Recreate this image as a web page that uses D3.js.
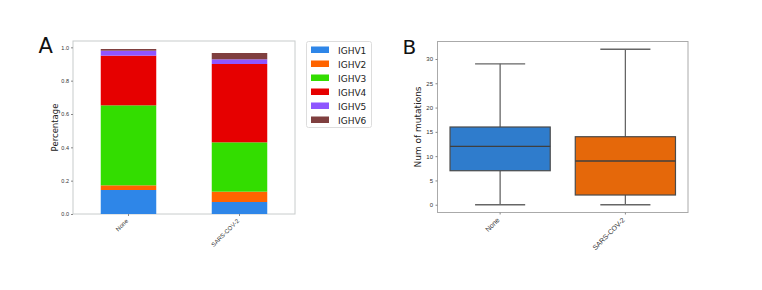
<!DOCTYPE html>
<html><head><meta charset="utf-8">
<script src="https://cdn.jsdelivr.net/npm/d3@7"></script>
<style>body{margin:0;background:#fff}svg{display:block;font-family:"DejaVu Sans",sans-serif}</style>
</head><body>
<svg id="c" width="762" height="290"></svg>
<script>
const groups = ["None", "SARS-COV-2"];
const genes = ["IGHV1", "IGHV2", "IGHV3", "IGHV4", "IGHV5", "IGHV6"];
const geneColors = ["#2e86e8", "#ff6400", "#33dd00", "#e60000", "#8f55ff", "#7f3f3f"];
const fracNone = [0.144, 0.028, 0.48, 0.298, 0.03, 0.01];
const fracSars = [0.072, 0.062, 0.296, 0.47, 0.028, 0.038];
const yTicksA = [0, 0.2, 0.4, 0.6, 0.8, 1.0];
// box stats: min, q1, median, q3, max
const boxNone = [0, 7, 12, 16, 29];
const boxSars = [0, 2, 9, 14, 32];
const boxColors = ["#2f7ccc", "#e5680a"];
const yTicksB = [0, 5, 10, 15, 20, 25, 30];

const svg = d3.select("#c");

// ---------- Panel A ----------
const A = {l: 73, r: 295, t: 41, b: 214};
const xA = d3.scaleBand().domain(groups).range([A.l, A.r]).paddingInner(0.5).paddingOuter(0.25);
const yA = d3.scaleLinear().domain([-0.0, 1.038]).range([A.b, A.t]);
const stackRows = groups.map((g, i) => {
  const o = {group: g};
  const arr = i === 0 ? fracNone : fracSars;
  genes.forEach((k, j) => o[k] = arr[j]);
  return o;
});
const series = d3.stack().keys(genes)(stackRows);
const gA = svg.append("g");
gA.append("rect").attr("x", A.l).attr("y", A.t).attr("width", A.r - A.l).attr("height", A.b - A.t)
  .attr("fill", "none").attr("stroke", "#c8cccc").attr("stroke-width", 1);
series.forEach((s, j) => {
  gA.selectAll(null).data(s).enter().append("rect")
    .attr("x", d => xA(d.data.group))
    .attr("width", xA.bandwidth())
    .attr("y", d => yA(d[1]))
    .attr("height", d => yA(d[0]) - yA(d[1]))
    .attr("fill", geneColors[j]);
});
const axA = gA.append("g").attr("transform", `translate(${A.l},0)`)
  .call(d3.axisLeft(yA).tickValues(yTicksA).tickFormat(d3.format(".1f")).tickSize(2).tickPadding(2));
axA.select(".domain").remove();
axA.selectAll("line").attr("stroke", "#888");
axA.selectAll("text").attr("font-size", 5.5).attr("fill", "#333");
const axAx = gA.append("g").attr("transform", `translate(0,${A.b})`)
  .call(d3.axisBottom(xA).tickSize(2).tickPadding(2));
axAx.select(".domain").remove();
axAx.selectAll("line").attr("stroke", "#888");
axAx.selectAll("text").attr("font-size", 6).attr("fill", "#333")
  .attr("text-anchor", "end").attr("x", 0).attr("y", 0).attr("dy", 0)
  .attr("transform", "translate(0,7.5) rotate(-45)");
gA.append("text").attr("transform", `translate(58,${(A.t + A.b) / 2}) rotate(-90)`)
  .attr("text-anchor", "middle").attr("font-size", 8.5).attr("fill", "#222").text("Percentage");
gA.append("text").attr("x", 38.5).attr("y", 53).attr("font-size", 21).attr("fill", "#111").text("A");

// legend
const lg = svg.append("g");
lg.append("rect").attr("x", 306.5).attr("y", 41.5).attr("width", 65).attr("height", 86)
  .attr("rx", 2).attr("fill", "#fff").attr("stroke", "#dddddd");
genes.forEach((k, j) => {
  const y = 50 + j * 14;
  lg.append("rect").attr("x", 311).attr("y", y - 3.5).attr("width", 18).attr("height", 6.5).attr("fill", geneColors[j]);
  lg.append("text").attr("x", 338).attr("y", y + 3.5).attr("font-size", 9).attr("fill", "#222").text(k);
});

// ---------- Panel B ----------
const B = {l: 437.5, r: 688, t: 41.5, b: 212.5};
const xB = d3.scaleBand().domain(groups).range([B.l, B.r]);
const yB = d3.scaleLinear().domain([-1.6, 33.6]).range([B.b, B.t]);
const gB = svg.append("g");
gB.append("rect").attr("x", B.l).attr("y", B.t).attr("width", B.r - B.l).attr("height", B.b - B.t)
  .attr("fill", "none").attr("stroke", "#aaaaaa").attr("stroke-width", 1);
const boxes = [boxNone, boxSars];
groups.forEach((g, i) => {
  const s = boxes[i];
  const cx = xB(g) + xB.bandwidth() / 2;
  const bw = xB.bandwidth() * 0.8, cw = xB.bandwidth() * 0.4;
  const lc = "#666";
  gB.append("line").attr("x1", cx).attr("x2", cx).attr("y1", yB(s[0])).attr("y2", yB(s[1])).attr("stroke", lc).attr("stroke-width", 1.3);
  gB.append("line").attr("x1", cx).attr("x2", cx).attr("y1", yB(s[3])).attr("y2", yB(s[4])).attr("stroke", lc).attr("stroke-width", 1.3);
  gB.append("line").attr("x1", cx - cw / 2).attr("x2", cx + cw / 2).attr("y1", yB(s[0])).attr("y2", yB(s[0])).attr("stroke", lc).attr("stroke-width", 1.3);
  gB.append("line").attr("x1", cx - cw / 2).attr("x2", cx + cw / 2).attr("y1", yB(s[4])).attr("y2", yB(s[4])).attr("stroke", lc).attr("stroke-width", 1.3);
  gB.append("rect").attr("x", cx - bw / 2).attr("width", bw).attr("y", yB(s[3])).attr("height", yB(s[1]) - yB(s[3]))
    .attr("fill", boxColors[i]).attr("stroke", "#4a4a4a").attr("stroke-width", 1.2);
  gB.append("line").attr("x1", cx - bw / 2).attr("x2", cx + bw / 2).attr("y1", yB(s[2])).attr("y2", yB(s[2])).attr("stroke", "#3f3f3f").attr("stroke-width", 1.3);
});
const axB = gB.append("g").attr("transform", `translate(${B.l},0)`)
  .call(d3.axisLeft(yB).tickValues(yTicksB).tickSize(2).tickPadding(2.5));
axB.select(".domain").remove();
axB.selectAll("line").attr("stroke", "#888");
axB.selectAll("text").attr("font-size", 6).attr("fill", "#333");
const axBx = gB.append("g").attr("transform", `translate(0,${B.b})`)
  .call(d3.axisBottom(xB).tickSize(2).tickPadding(2));
axBx.select(".domain").remove();
axBx.selectAll("line").attr("stroke", "#888");
axBx.selectAll("text").attr("font-size", 7).attr("fill", "#333")
  .attr("text-anchor", "end").attr("x", 0).attr("y", 0).attr("dy", 0)
  .attr("transform", "translate(0,8) rotate(-45)");
gB.append("text").attr("transform", `translate(421,${(B.t + B.b) / 2}) rotate(-90)`)
  .attr("text-anchor", "middle").attr("font-size", 9).attr("fill", "#222").text("Num of mutations");
gB.append("text").attr("x", 402.5).attr("y", 54).attr("font-size", 20).attr("fill", "#111").text("B");
</script>
</body></html>
